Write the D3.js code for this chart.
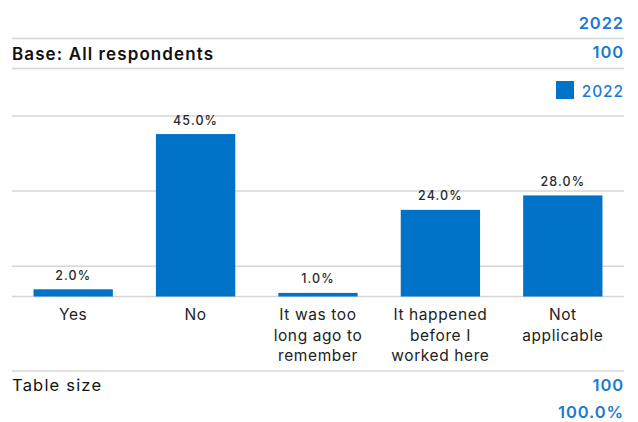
<!DOCTYPE html>
<html>
<head>
<meta charset="utf-8">
<script src="https://cdn.jsdelivr.net/npm/d3@7"></script>
<style>
  body { margin: 0; background: #fff; }
  svg { display: block; font-family: Inter, "DejaVu Sans", sans-serif; }
</style>
</head>
<body>
<div id="chart"></div>
<script>
(function () {
    'use strict';
    var categories = [
            ["Yes"],
            ["No"],
            ["It was too", "long ago to", "remember"],
            ["It happened", "before I", "worked here"],
            ["Not", "applicable"]
        ],
        values2022 = [2.0, 45.0, 1.0, 24.0, 28.0],
        gridTicks = [8.4, 29.2, 50],
        seriesName = "2022",
        baseLabel = "Base: All respondents",
        baseValue = 100,
        tableSize = 100,
        tableTotal = "100.0%";

    var width = 638, height = 422,
        left = 12, right = 624,
        barBlue = "#0073c9",
        textBlue = "#1a7bd2",
        gridGrey = "#d6d6d6";

    var svg = d3.select("#chart").append("svg")
        .attr("width", width)
        .attr("height", height);

    var x = d3.scaleBand()
        .domain(d3.range(categories.length))
        .range([left, right])
        .paddingInner(0.352)
        .paddingOuter(0.176);

    var y = d3.scaleLinear()
        .domain([0, 50])
        .range([296.5, 116]);

    function blueNum(sel, size) {
        return sel.attr("text-anchor", "end")
            .style("font-size", size || "16.5px")
            .style("font-weight", 600)
            .style("letter-spacing", "0.9px")
            .style("fill", textBlue);
    }

    // header rows
    blueNum(svg.append("text").attr("x", right).attr("y", 29)).text(seriesName);

    svg.append("text")
        .attr("x", left).attr("y", 60)
        .style("font-size", "17px").style("font-weight", 600)
        .style("letter-spacing", "1.1px")
        .style("fill", "#111")
        .text(baseLabel);

    blueNum(svg.append("text").attr("x", right).attr("y", 58)).text(baseValue);

    [38.5, 68.5].forEach(function (yy) {
        svg.append("line")
            .attr("x1", left).attr("x2", right)
            .attr("y1", yy).attr("y2", yy)
            .attr("stroke", gridGrey).attr("stroke-width", 1.5);
    });

    // legend
    svg.append("rect")
        .attr("x", 556).attr("y", 81)
        .attr("width", 18).attr("height", 18)
        .attr("fill", barBlue);
    blueNum(svg.append("text").attr("x", right).attr("y", 97), "15.5px")
        .style("font-weight", 500)
        .text(seriesName);

    // gridlines
    svg.append("g")
        .selectAll("line")
        .data(gridTicks.concat([0]))
        .enter()
        .append("line")
        .attr("x1", left).attr("x2", right)
        .attr("y1", function (d) { return y(d); })
        .attr("y2", function (d) { return y(d); })
        .attr("stroke", gridGrey)
        .attr("stroke-width", 1.5);

    // bars
    svg.append("g")
        .selectAll("rect")
        .data(values2022)
        .enter()
        .append("rect")
        .attr("x", function (d, i) { return x(i); })
        .attr("y", function (d) { return y(d); })
        .attr("width", x.bandwidth())
        .attr("height", function (d) { return y(0) - y(d); })
        .attr("fill", barBlue);

    // value labels
    svg.append("g")
        .selectAll("text")
        .data(values2022)
        .enter()
        .append("text")
        .attr("x", function (d, i) { return x(i) + x.bandwidth() / 2; })
        .attr("y", function (d) { return y(d) - 9.5; })
        .attr("text-anchor", "middle")
        .style("font-size", "12.5px")
        .style("font-weight", 500)
        .style("letter-spacing", "1.1px")
        .style("fill", "#2a2a2a")
        .text(function (d) { return d.toFixed(1) + "%"; });

    // category labels
    var cat = svg.append("g")
        .selectAll("text")
        .data(categories)
        .enter()
        .append("text")
        .attr("text-anchor", "middle")
        .style("font-size", "15.5px")
        .style("letter-spacing", "0.6px")
        .style("fill", "#222");
    cat.selectAll("tspan")
        .data(function (d, i) { return d.map(function (s) { return {s: s, i: i}; }); })
        .enter()
        .append("tspan")
        .attr("x", function (d) { return x(d.i) + x.bandwidth() / 2; })
        .attr("y", function (d, j) { return 320 + j * 20.5; })
        .text(function (d) { return d.s; });

    svg.append("line")
        .attr("x1", left).attr("x2", right)
        .attr("y1", 371).attr("y2", 371)
        .attr("stroke", gridGrey).attr("stroke-width", 1.5);

    // footer
    svg.append("text")
        .attr("x", left).attr("y", 391)
        .style("font-size", "16.5px")
        .style("letter-spacing", "1.2px")
        .style("fill", "#111")
        .text("Table size");
    blueNum(svg.append("text").attr("x", right).attr("y", 391)).text(tableSize);
    blueNum(svg.append("text").attr("x", right).attr("y", 418)).text(tableTotal);
}());
</script>
</body>
</html>
